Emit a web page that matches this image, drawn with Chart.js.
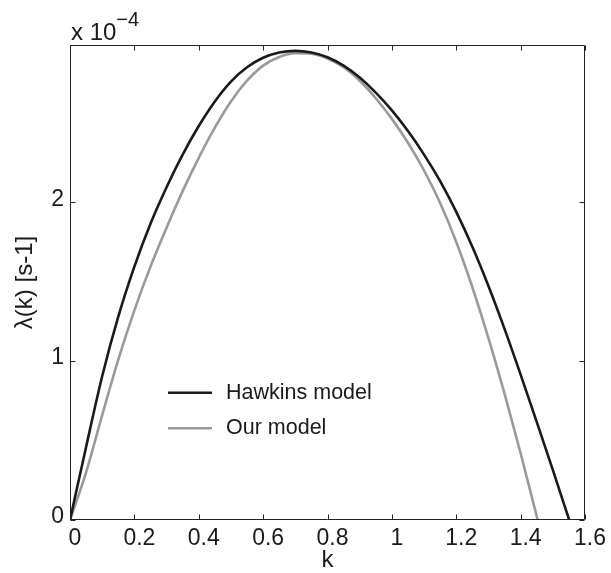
<!DOCTYPE html>
<html>
<head>
<meta charset="utf-8">
<script src="https://cdn.jsdelivr.net/npm/chart.js@4/dist/chart.umd.min.js"></script>
<style>
  html, body { margin: 0; padding: 0; background: #ffffff; }
  #wrap { width: 611px; height: 573px; }
</style>
</head>
<body>
<div id="wrap"><canvas id="c" width="611" height="573"></canvas></div>
<script>
// wavenumber k (Hawkins model)
const kValues = [0, 0.05, 0.10, 0.15, 0.20, 0.25, 0.30, 0.35, 0.40, 0.45, 0.50, 0.55, 0.60, 0.65, 0.70, 0.75,
                 0.80, 0.85, 0.90, 0.95, 1.00, 1.05, 1.10, 1.15, 1.20, 1.25, 1.30, 1.35, 1.40, 1.45, 1.50, 1.551];
// growth rate lambda(k), in units of 1e-4 s^-1
const hawkins = [0, 0.46, 0.905, 1.28, 1.595, 1.865, 2.095, 2.30, 2.48, 2.635, 2.76, 2.85, 2.91, 2.943, 2.953, 2.943,
                 2.913, 2.86, 2.785, 2.69, 2.578, 2.448, 2.30, 2.133, 1.94, 1.72, 1.473, 1.203, 0.915, 0.618, 0.315, 0];
// wavenumber k (our model)
const ourModelK = [0, 0.05, 0.10, 0.15, 0.20, 0.25, 0.30, 0.35, 0.40, 0.45, 0.50, 0.55, 0.60, 0.65, 0.70, 0.75,
                   0.80, 0.85, 0.90, 0.95, 1.00, 1.05, 1.10, 1.15, 1.20, 1.25, 1.30, 1.35, 1.40, 1.453];
const ourModel = [0, 0.30, 0.66, 1.01, 1.32, 1.595, 1.84, 2.07, 2.28, 2.47, 2.635, 2.765, 2.86, 2.915, 2.938, 2.935,
                  2.905, 2.85, 2.765, 2.655, 2.525, 2.375, 2.20, 1.995, 1.75, 1.465, 1.145, 0.795, 0.42, 0];
const seriesNames = ['Hawkins model', 'Our model'];
const xTickValues = [0, 0.2, 0.4, 0.6, 0.8, 1.0, 1.2, 1.4, 1.6];
const yTickValues = [0, 1, 2];
const xLabel = 'k';
const yLabel = 'λ(k) [s-1]';
const exponentBase = 'x 10';
const exponentPower = '\u22124';

const FONT = '"Liberation Sans", Arial, Helvetica, sans-serif';
const TEXT = '#1a1a1a';
const COLORS = ['#1a1a1a', '#9a9a9a'];

const boxPlugin = {
  id: 'boxPlugin',
  afterDraw(chart) {
    const ctx = chart.ctx;
    const a = chart.chartArea;
    const xs = chart.scales.x, ys = chart.scales.y;
    const L = Math.round(a.left) + 0.5, R = Math.round(a.right) - 0.5;
    const T = Math.round(a.top) + 0.5, B = Math.round(a.bottom) - 0.5;
    ctx.save();
    ctx.strokeStyle = '#222';
    ctx.lineWidth = 1;
    ctx.beginPath();
    ctx.rect(L, T, R - L, B - T);
    ctx.stroke();
    const tl = 5;
    ctx.beginPath();
    xs.ticks.forEach(t => {
      const px = Math.round(xs.getPixelForValue(t.value)) + 0.5;
      ctx.moveTo(px, B); ctx.lineTo(px, B - tl);
      ctx.moveTo(px, T); ctx.lineTo(px, T + tl);
    });
    ys.ticks.forEach(t => {
      const py = Math.round(ys.getPixelForValue(t.value)) + 0.5;
      ctx.moveTo(L, py); ctx.lineTo(L + tl, py);
      ctx.moveTo(R, py); ctx.lineTo(R - tl, py);
    });
    ctx.stroke();

    // exponent label
    ctx.fillStyle = TEXT;
    ctx.textBaseline = 'alphabetic';
    ctx.textAlign = 'left';
    ctx.font = '24px ' + FONT;
    ctx.fillText(exponentBase, 71, 39.5);
    const w = ctx.measureText(exponentBase).width;
    ctx.font = '20px ' + FONT;
    ctx.fillText(exponentPower, 71 + w, 25.5);

    // legend
    const legendY = [392.7, 428.3];
    chart.data.datasets.forEach((ds, i) => {
      const y = legendY[i];
      ctx.strokeStyle = ds.borderColor;
      ctx.lineWidth = 2.5;
      ctx.beginPath();
      ctx.moveTo(168, y); ctx.lineTo(212, y);
      ctx.stroke();
      ctx.fillStyle = TEXT;
      ctx.font = '21.5px ' + FONT;
      ctx.textBaseline = 'middle';
      ctx.fillText(ds.label, 226, y);
    });
    ctx.restore();
  }
};

new Chart(document.getElementById('c'), {
  type: 'line',
  data: {
    datasets: [
      {
        label: seriesNames[0],
        data: kValues.map((k, i) => ({ x: k, y: hawkins[i] })),
        borderColor: COLORS[0],
        borderWidth: 2.6,
        pointRadius: 0,
        cubicInterpolationMode: 'monotone',
        fill: false
      },
      {
        label: seriesNames[1],
        data: ourModelK.map((k, i) => ({ x: k, y: ourModel[i] })),
        borderColor: COLORS[1],
        borderWidth: 2.6,
        pointRadius: 0,
        cubicInterpolationMode: 'monotone',
        fill: false
      }
    ]
  },
  options: {
    responsive: false,
    animation: false,
    devicePixelRatio: 1,
    layout: { padding: { left: 0, right: 26, top: 45, bottom: 0 } },
    plugins: { legend: { display: false }, tooltip: { enabled: false } },
    scales: {
      x: {
        type: 'linear',
        min: 0, max: 1.6,
        afterBuildTicks: s => { s.ticks = xTickValues.map(v => ({ value: v })); },
        afterFit: s => { s.height = 53; },
        grid: { display: false, drawTicks: false },
        border: { display: false },
        ticks: {
          padding: 5,
          labelOffset: 5,
          color: TEXT,
          font: { family: FONT, size: 23 },
          maxRotation: 0,
          autoSkip: false,
          callback: v => String(Math.round(v * 10) / 10)
        },
        title: {
          display: true, text: xLabel, color: TEXT,
          font: { family: FONT, size: 24 },
          padding: { top: 0, bottom: -2 }
        }
      },
      y: {
        type: 'linear',
        min: 0, max: 2.99,
        afterBuildTicks: s => { s.ticks = yTickValues.map(v => ({ value: v })); },
        afterFit: s => { s.width = 70; },
        grid: { display: false, drawTicks: false },
        border: { display: false },
        ticks: {
          padding: 6,
          labelOffset: -3,
          color: TEXT,
          font: { family: FONT, size: 23 },
          autoSkip: false,
          callback: v => String(v)
        },
        title: {
          display: true, text: yLabel, color: TEXT,
          font: { family: FONT, size: 24 },
          padding: { top: 11, bottom: 0 }
        }
      }
    }
  },
  plugins: [boxPlugin]
});
</script>
</body>
</html>
